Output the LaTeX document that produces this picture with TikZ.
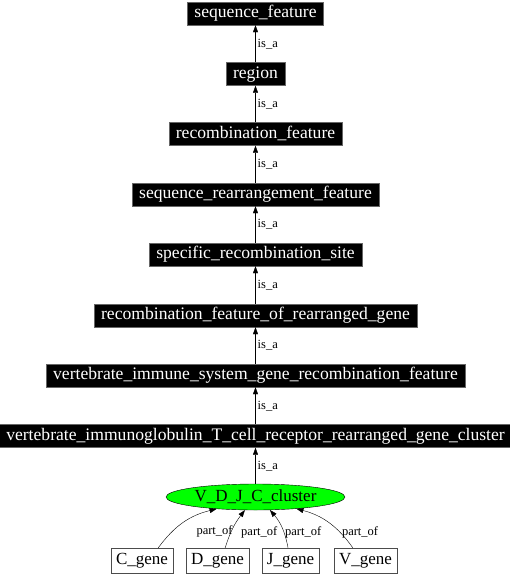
\documentclass[tikz,border=0pt]{standalone}
\usepackage{fontspec}
\setmainfont{Liberation Serif}
\usetikzlibrary{arrows.meta,shapes.geometric}
\begin{document}
\begin{tikzpicture}[x=1pt,y=-1pt,>={Triangle[length=7pt,width=5pt]},
  term/.style={fill=black,draw=black!60,text=white,inner xsep=7pt,inner ysep=0pt,
    minimum height=23pt,text height=12pt,text depth=4pt,font=\fontsize{17.6}{20}\selectfont},
  gene/.style={draw=black!70,fill=white,inner xsep=5pt,inner ysep=0pt,
    minimum height=25pt,text height=12pt,text depth=4pt,font=\fontsize{17}{20}\selectfont},
  lbl/.style={font=\fontsize{12.5}{14}\selectfont,inner sep=2pt}]
  \useasboundingbox (0,0) rectangle (510,576);
  \node[term] (seqfeat)   at (255.5,13.5)  {sequence\_feature};
  \node[term] (region)    at (255.5,74)    {region};
  \node[term] (recfeat)   at (255.5,134)   {recombination\_feature};
  \node[term] (seqrearr)  at (255.5,194.5) {sequence\_rearrangement\_feature};
  \node[term] (recsite)   at (255.5,254.5) {specific\_recombination\_site};
  \node[term] (recgene)   at (255.5,315.5) {recombination\_feature\_of\_rearranged\_gene};
  \node[term] (vertimm)   at (255.5,375.5) {vertebrate\_immune\_system\_gene\_recombination\_feature};
  \node[term] (vertig)    at (255.5,436)   {vertebrate\_immunoglobulin\_T\_cell\_receptor\_rearranged\_gene\_cluster};
  \node[ellipse,draw=black,fill=green,minimum width=179pt,minimum height=26pt,inner sep=0pt,
    font=\fontsize{17}{20}\selectfont] (cluster) at (255.5,497) {V\_D\_J\_C\_cluster};
  \node[gene] (Cgene) at (142,560.5)   {C\_gene};
  \node[gene] (Dgene) at (217.5,560.5) {D\_gene};
  \node[gene] (Jgene) at (290.5,560.5) {J\_gene};
  \node[gene] (Vgene) at (365.5,560.5) {V\_gene};
  \path[->] (region)   edge node[lbl,right] {is\_a} (seqfeat);
  \path[->] (recfeat)  edge node[lbl,right] {is\_a} (region);
  \path[->] (seqrearr) edge node[lbl,right] {is\_a} (recfeat);
  \path[->] (recsite)  edge node[lbl,right] {is\_a} (seqrearr);
  \path[->] (recgene)  edge node[lbl,right] {is\_a} (recsite);
  \path[->] (vertimm)  edge node[lbl,right] {is\_a} (recgene);
  \path[->] (vertig)   edge node[lbl,right] {is\_a} (vertimm);
  \path[->] (cluster)  edge node[lbl,right] {is\_a} (vertig);
  \path[->] (Cgene.38)  edge [bend left=20]  node[lbl,right,pos=0.55,xshift=8pt,yshift=-11pt] {part\_of} (cluster.197.5);
  \path[->] (Dgene.59)  edge [bend left=10]  node[lbl,right,pos=0.55,xshift=5pt,yshift=-6pt] {part\_of} (cluster.231);
  \path[->] (Jgene.101) edge [bend right=15] node[lbl,right,pos=0.55,xshift=2pt,yshift=-7pt] {part\_of} (cluster.318.5);
  \path[->] (Vgene.135) edge [bend right=20] node[lbl,right,pos=0.55,xshift=14pt,yshift=-12pt] {part\_of} (cluster.344.5);
\end{tikzpicture}
\end{document}
